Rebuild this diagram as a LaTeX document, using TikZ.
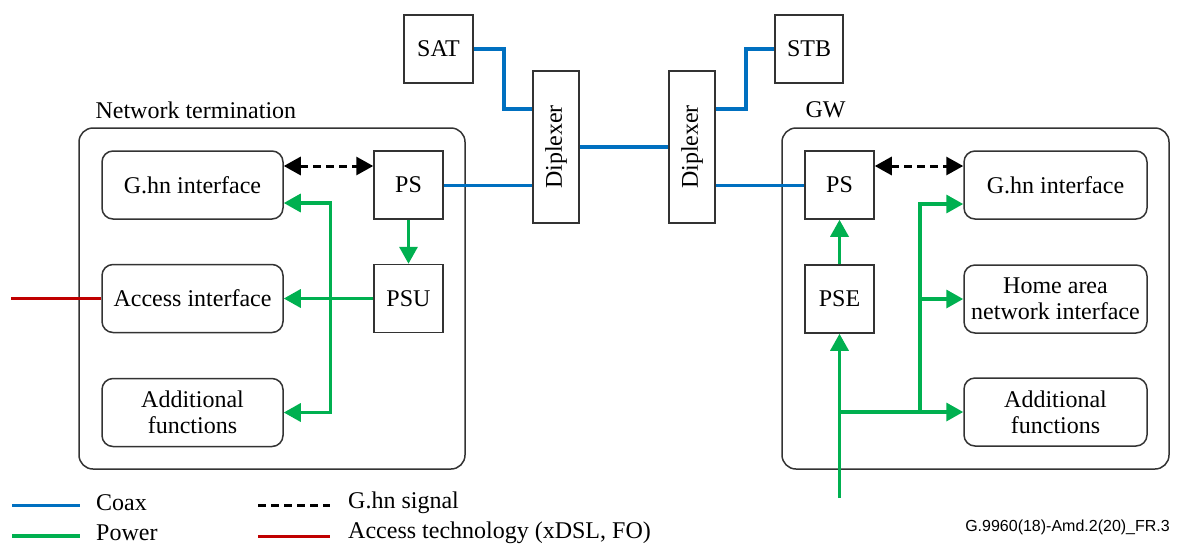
\documentclass[tikz,border=0pt]{standalone}
\usepackage{fontspec}
\setmainfont{Liberation Serif}
\newfontfamily\labelsans{Liberation Sans}
\newfontfamily\boxserif{Liberation Serif}
\usetikzlibrary{arrows.meta}
\definecolor{coaxblue}{HTML}{0070C0}
\definecolor{pwgreen}{HTML}{00B050}
\definecolor{accred}{HTML}{C00000}
\tikzset{
  every node/.style={font=\boxserif\fontsize{24}{26}\selectfont},
  outerbox/.style={draw=black!80, line width=1.5pt, rounded corners=14pt},
  rbox/.style={draw=black!80, line width=1.5pt, rounded corners=11pt, minimum height=68pt, align=center, inner sep=0pt},
  sqbox/.style={draw=black!80, line width=1.5pt, minimum width=69pt, minimum height=68pt, inner sep=0pt},
  dipbox/.style={draw=black!80, line width=1.5pt, minimum width=46pt, minimum height=152pt, inner sep=0pt},
  coaxline/.style={draw=coaxblue, line width=3pt},
  coaxthick/.style={draw=coaxblue, line width=3.8pt},
  pw/.style={draw=pwgreen, line width=3.4pt},
  accline/.style={draw=accred, line width=3pt},
  sig/.style={draw=black, line width=3pt, dash pattern=on 8pt off 5pt},
  tip/.style={-{Triangle[length=17pt,width=18pt]}},
  tips/.style={{Triangle[length=17pt,width=18pt]}-{Triangle[length=17pt,width=18pt]}},
}
\begin{document}
\begin{tikzpicture}[x=1pt,y=-1pt]
\useasboundingbox (0,0) rectangle (1177,547);

% outer boxes
\draw[outerbox] (79,128) rectangle (465,469);
\draw[outerbox] (782,128) rectangle (1169,469);
\node[anchor=west] (ntlabel) at (92,110) {Network termination};
\node[anchor=west] (gwlabel) at (802,110) {GW};

% left nodes
\node[rbox, minimum width=181pt] (ghnL) at (192.5,185) {G.hn interface};
\node[rbox, minimum width=181pt] (accL) at (192.5,298.5) {Access interface};
\node[rbox, minimum width=181pt] (addL) at (192.5,412.5) {Additional\\functions};
\node[sqbox] (psL) at (408.5,185) {PS};
\node[sqbox] (psuL) at (408.5,298.5) {PSU};

% top nodes
\node[sqbox] (sat) at (438.5,49) {SAT};
\node[sqbox, minimum width=68pt] (stb) at (809,49) {STB};
\node[dipbox] (dip1) at (556,147) {\rotatebox{90}{Diplexer}};
\node[dipbox] (dip2) at (692,147) {\rotatebox{90}{Diplexer}};

% right nodes
\node[sqbox] (psR) at (839.5,185) {PS};
\node[sqbox] (pseR) at (839.5,299) {PSE};
\node[rbox, minimum width=183pt] (ghnR) at (1055.5,185) {G.hn interface};
\node[rbox, minimum width=183pt] (homeR) at (1055.5,299) {Home area\\network interface};
\node[rbox, minimum width=183pt] (addR) at (1055.5,412) {Additional\\functions};

% coax
\draw[coaxline] (psL.east) -- (psL.east -| dip1.west);
\draw[coaxthick] (sat.east) -- ++(30,0) |- ([yshift=38pt]dip1.west);
\draw[coaxthick] (dip1.east) -- (dip2.west);
\draw[coaxthick] ([yshift=38pt]dip2.east) -- ++(30,0) |- (stb.west);
\draw[coaxline] (psR.west -| dip2.east) -- (psR.west);

% G.hn signal
\draw[sig, tips] ([yshift=19pt]ghnL.east) -- ([yshift=19pt]psL.west);
\draw[sig, tips] ([yshift=19pt]psR.east) -- ([yshift=19pt]ghnR.west);

% power left
\draw[pw, tip] (psL.south) -- (psuL.north);
\draw[pw, tip] (psuL.west) -- (accL.east);
\draw[pw, tips] ([yshift=-18pt]ghnL.east) -- ++(47,0) |- (addL.east);

% access line
\coordinate (accin) at (11,298.5);
\draw[accline] (accin) -- (accL.west);

% power right
\coordinate (pin) at (839.5,498);
\coordinate (jR) at (920,412);
\draw[pw, tip] (pseR.north) -- (psR.south);
\draw[pw, tip] (pin) -- (pseR.south);
\draw[pw, tip] (pseR.south |- addR.west) -- (addR.west);
\draw[pw, tip] (jR) |- ([yshift=-19pt]ghnR.west);
\draw[pw, tip] (jR |- homeR.west) -- (homeR.west);

% legend
\coordinate (l1a) at (12,505); \coordinate (l1b) at (80,505);
\coordinate (l2a) at (12,536); \coordinate (l2b) at (80,536);
\coordinate (l3a) at (258,505); \coordinate (l3b) at (330,505);
\coordinate (l4a) at (258,536); \coordinate (l4b) at (330,536);
\draw[coaxline] (l1a) -- (l1b);
\draw[pw] (l2a) -- (l2b);
\draw[sig] (l3a) -- (l3b);
\draw[accline] (l4a) -- (l4b);
\node[anchor=west, inner sep=0pt] (t1) at (96,503) {Coax};
\node[anchor=west, inner sep=0pt] (t2) at (96,533) {Power};
\node[anchor=west, inner sep=0pt] (t3) at (348,503) {G.hn signal};
\node[anchor=west, inner sep=0pt] (t4) at (348,533) {Access technology (xDSL, FO)};
\node[anchor=east, inner sep=0pt, font=\labelsans\fontsize{16}{18}\selectfont] (fig) at (1170,527) {G.9960(18)-Amd.2(20)\_FR.3};
\end{tikzpicture}
\end{document}
